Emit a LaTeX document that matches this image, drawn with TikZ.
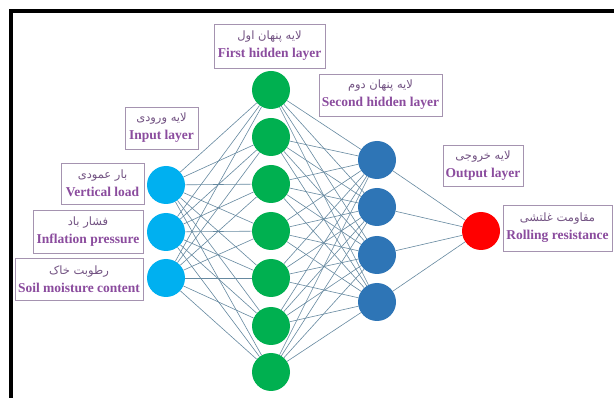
\documentclass[tikz,border=0pt]{standalone}
\usepackage{fontspec}
\setmainfont{Liberation Serif}
\newfontfamily\arabicfont[Script=Arabic]{DejaVu Sans}
\TeXXeTstate=1
\definecolor{inblue}{HTML}{00B0F0}
\definecolor{hgreen}{HTML}{00B050}
\definecolor{hblue}{HTML}{2E75B6}
\definecolor{outred}{HTML}{FF0000}
\definecolor{wire}{HTML}{6689A0}
\definecolor{txtpurple}{HTML}{8B4C9E}
\definecolor{farpurple}{HTML}{735383}
\definecolor{boxgray}{HTML}{A593B0}
\newcommand{\fa}[1]{{\arabicfont\fontsize{11.5}{18}\selectfont\color{farpurple}\beginR #1\endR}}
\newcommand{\en}[1]{{\bfseries\fontsize{13.5}{18}\selectfont\color{txtpurple}#1}}
\tikzset{
  neuron/.style={circle, minimum size=38pt, inner sep=0pt},
  lbl/.style={draw=boxgray, line width=0.8pt, fill=white, align=center, inner sep=0pt,
              font=\fontsize{13.5}{18}\selectfont},
  wirestyle/.style={draw=wire, line width=0.6pt}
}
\begin{document}
\begin{tikzpicture}[x=1pt,y=-1pt]
\useasboundingbox (0,0) rectangle (614,398);
\fill[white] (0,0) rectangle (614,398);
\draw[line width=3.5pt] (11,400) -- (11,11) -- (616,11);

% nodes
\foreach \i/\y in {1/185,2/232,3/278}
  \node[neuron, fill=inblue] (i\i) at (166,\y) {};
\foreach \i/\y in {1/90,2/137,3/184,4/231,5/278,6/326,7/372}
  \node[neuron, fill=hgreen] (h\i) at (271,\y) {};
\foreach \i/\y in {1/160,2/207,3/255,4/302}
  \node[neuron, fill=hblue] (k\i) at (377,\y) {};
\node[neuron, fill=outred] (o) at (481,231) {};

% connections
\foreach \a in {1,2,3}
  \foreach \b in {1,...,7}
    \draw[wirestyle] (i\a) -- (h\b);
\foreach \a in {1,...,7}
  \foreach \b in {1,...,4}
    \draw[wirestyle] (h\a) -- (k\b);
\foreach \a in {1,...,4}
  \draw[wirestyle] (k\a) -- (o);

% labels
\node[lbl, minimum width=111pt, minimum height=44pt] (lh1) at (269.5,46) {\fa{لایه پنهان اول}\\\en{First hidden layer}};
\node[lbl, minimum width=73pt, minimum height=42pt] (lin) at (161.5,128) {\fa{لایه ورودی}\\\en{Input layer}};
\node[lbl, minimum width=83pt, minimum height=41pt] (lv) at (102.5,183.5) {\fa{بار عمودی}\\\en{Vertical load}};
\node[lbl, minimum width=110pt, minimum height=43pt] (lp) at (88,231.5) {\fa{فشار باد}\\\en{Inflation pressure}};
\node[lbl, minimum width=128pt, minimum height=42pt] (ls) at (79,279) {\fa{رطوبت خاک}\\\en{Soil moisture content}};
\node[lbl, minimum width=123pt, minimum height=42pt] (lh2) at (380.5,95) {\fa{لایه پنهان دوم}\\\en{Second hidden layer}};
\node[lbl, minimum width=80pt, minimum height=41pt] (lout) at (483,165.5) {\fa{لایه خروجی}\\\en{Output layer}};
\node[lbl, minimum width=109pt, minimum height=46pt] (lr) at (557.5,228) {\fa{مقاومت غلتشی}\\\en{Rolling resistance}};
\end{tikzpicture}
\end{document}
